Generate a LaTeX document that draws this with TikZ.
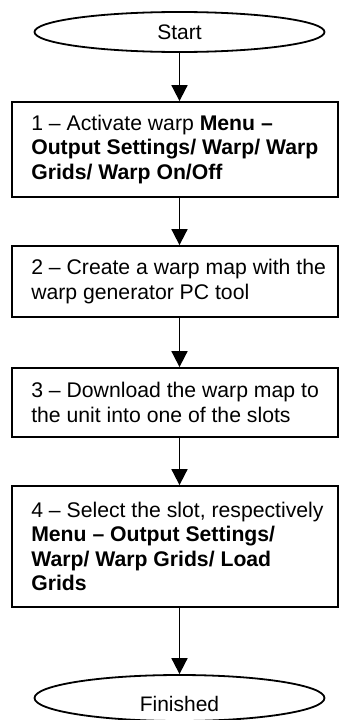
\documentclass[tikz,border=0pt]{standalone}
\usepackage{fontspec}
\setmainfont{Liberation Sans}
\usetikzlibrary{shapes.geometric,arrows.meta}
\tikzset{
  term/.style={draw, ellipse, line width=1.8pt, minimum width=290pt, inner sep=0pt},
  stepbox/.style={draw, rectangle, line width=1.8pt, minimum width=326pt, inner sep=0pt},
  txt/.style={align=left, inner sep=0pt, anchor=west, font=\fontsize{21.2}{24.5}\selectfont},
  ctxt/.style={inner sep=0pt, font=\fontsize{21}{24.5}\selectfont},
  arr/.style={line width=1.8pt, -{Triangle[width=16pt,length=16pt]}}
}
\begin{document}
\begin{tikzpicture}[x=1pt,y=-1pt]
\useasboundingbox (0,0) rectangle (339,720);
\node[term, minimum height=40pt, font=\fontsize{21}{24.5}\selectfont] (start) at (179.5,32) {Start};
\node[stepbox, minimum height=95pt] (b1) at (175,149.5) {};
\node[txt] (t1) at ([xshift=20pt]b1.west) {1 -- Activate warp \textbf{Menu --}\\\textbf{Output Settings/ Warp/ Warp}\\\textbf{Grids/ Warp On/Off}};
\node[stepbox, minimum height=71pt] (b2) at (175,281.5) {};
\node[txt] (t2) at ([xshift=20pt]b2.west) {2 -- Create a warp map with the\\warp generator PC tool};
\node[stepbox, minimum height=69pt] (b3) at (175,402.5) {};
\node[txt] (t3) at ([xshift=20pt]b3.west) {3 -- Download the warp map to\\the unit into one of the slots};
\node[stepbox, minimum height=121pt] (b4) at (175,546.5) {};
\node[txt] (t4) at ([xshift=20pt]b4.west) {4 -- Select the slot, respectively\\\textbf{Menu -- Output Settings/}\\\textbf{Warp/ Warp Grids/ Load}\\\textbf{Grids}};
\node[term, minimum height=46pt] (fin) at (179.5,698) {};
\node[ctxt] (tfin) at ([yshift=-6pt]fin.center) {Finished};
\draw[arr] (start.south) -- (start.south |- b1.north);
\draw[arr] (b1.south -| start.south) -- (start.south |- b2.north);
\draw[arr] (b2.south -| start.south) -- (start.south |- b3.north);
\draw[arr] (b3.south -| start.south) -- (start.south |- b4.north);
\draw[arr] (b4.south -| start.south) -- (fin.north);
\end{tikzpicture}
\end{document}
